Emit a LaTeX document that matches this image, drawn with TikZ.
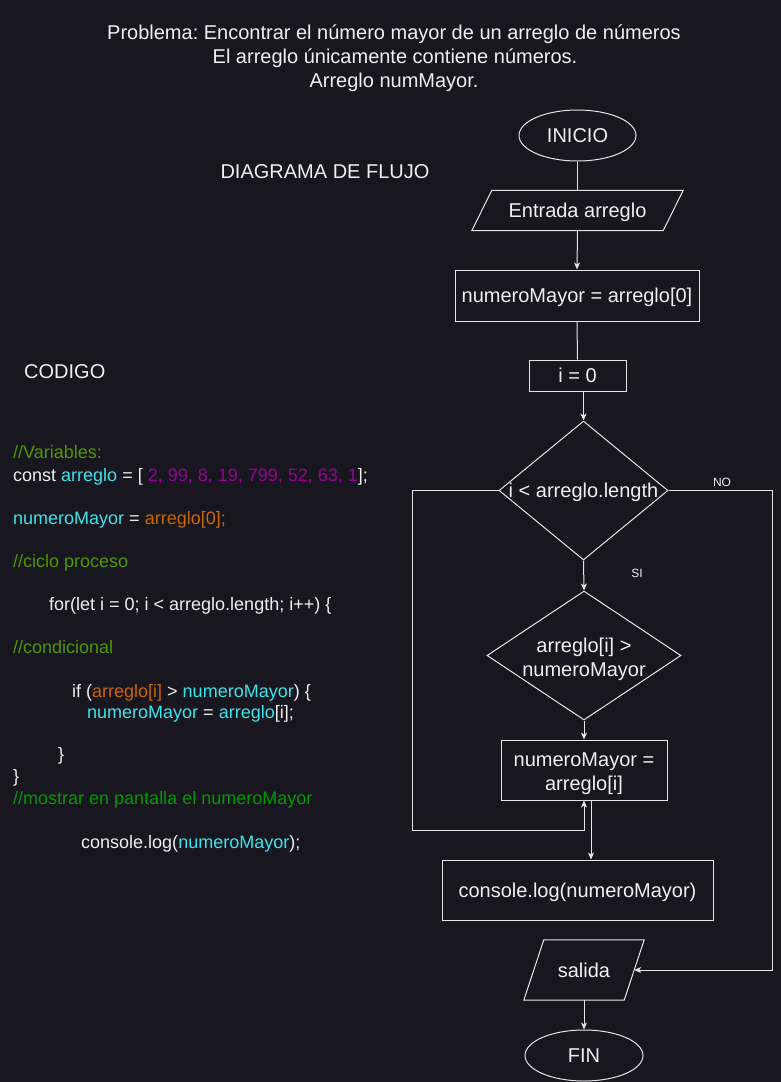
\documentclass[tikz,border=0pt]{standalone}
\usepackage{fontspec}
\setmainfont{Liberation Sans}
\usetikzlibrary{shapes.geometric,arrows.meta}
\definecolor{bg}{HTML}{18161F}
\definecolor{fg}{HTML}{F0F0F0}
\definecolor{ln}{HTML}{E6E6E6}
\definecolor{ccyan}{HTML}{3DE3EA}
\definecolor{corange}{HTML}{CC6600}
\definecolor{cpurple}{HTML}{990099}
\definecolor{cgreen}{HTML}{4D9900}
\definecolor{cgreen2}{HTML}{009900}
\frenchspacing
\begin{document}
\begin{tikzpicture}[x=1pt,y=-1pt,
  flowfont/.style={font=\fontsize{20}{24}\selectfont},
  shapebox/.style={draw=ln, line width=1pt, text=fg, flowfont, inner sep=0pt, text height=14.4pt, text depth=0pt},
  rectbox/.style={shapebox, rectangle},
  ovalbox/.style={shapebox, ellipse},
  decbox/.style={draw=ln, line width=1pt, diamond, inner sep=0pt},
  parabox/.style={rectangle, text=fg, flowfont, inner sep=0pt, text height=14.4pt, text depth=0pt},
  multitext/.style={text=fg, flowfont, inner sep=0pt, align=center},
  conn/.style={draw=ln, line width=1pt},
  arr/.style={conn, -{Stealth[length=7pt,width=6pt,inset=2pt]}},
  titletext/.style={text=fg, flowfont, inner sep=0pt, anchor=base},
  headtext/.style={text=fg, flowfont, inner sep=0pt, anchor=base west},
  codetext/.style={text=fg, font=\fontsize{18}{22}\selectfont, inner sep=0pt, anchor=base west},
  smalltext/.style={text=fg, font=\fontsize{12}{14}\selectfont, inner sep=0pt, anchor=base}]
\fill[bg] (0,0) rectangle (781,1082);
\useasboundingbox (0,0) rectangle (781,1082);

% titles
\node[titletext] (title1) at (394,39) {Problema: Encontrar el número mayor de un arreglo de números};
\node[titletext] (title2) at (395,63) {El arreglo únicamente contiene números.};
\node[titletext] (title3) at (394,87) {Arreglo numMayor.};
\node[titletext] (diag) at (325,178) {DIAGRAMA DE FLUJO};
\node[headtext] (codigo) at (24,378) {CODIGO};

% code
\node[codetext, text=cgreen] (c1) at (13,458) {//Variables:};
\node[codetext] (c2) at (13,481) {const \textcolor{ccyan}{arreglo} = [ \textcolor{cpurple}{2, 99, 8, 19, 799, 52, 63, 1}];};
\node[codetext] (c3) at (13,524) {\textcolor{ccyan}{numeroMayor} = \textcolor{corange}{arreglo[0];}};
\node[codetext, text=cgreen] (c4) at (13,567) {//ciclo proceso};
\node[codetext] (c5) at (49,610) {for(let i = 0; i < arreglo.length; i++) \{};
\node[codetext, text=cgreen] (c6) at (13,653) {//condicional};
\node[codetext] (c7) at (72,697) {if (\textcolor{corange}{arreglo[i]} > \textcolor{ccyan}{numeroMayor}) \{};
\node[codetext] (c8) at (87,718) {\textcolor{ccyan}{numeroMayor} = \textcolor{ccyan}{arreglo}[i];};
\node[codetext] (c9) at (58,760) {\}};
\node[codetext] (c10) at (13,782) {\}};
\node[codetext, text=cgreen2] (c11) at (13,804) {//mostrar en pantalla el numeroMayor};
\node[codetext] (c12) at (81,848) {console.log(\textcolor{ccyan}{numeroMayor});};

% flowchart shapes
\node[ovalbox, minimum width=117pt, minimum height=51pt] (inicio) at (577.5,135.5) {INICIO};
\node[parabox, minimum width=191pt, minimum height=40pt] (entrada) at (577.5,210.5) {Entrada arreglo};
\draw[conn] ([xshift=10pt]entrada.north west) -- ([xshift=10pt]entrada.north east)
  -- ([xshift=-10pt]entrada.south east) -- ([xshift=-10pt]entrada.south west) -- cycle;
\node[rectbox, minimum width=244pt, minimum height=51pt] (nm0) at (577,295.5) {numeroMayor = arreglo[0]};
\node[rectbox, minimum width=97pt, minimum height=31pt] (i0) at (577.5,375.5) {i = 0};
\node[decbox, minimum width=169pt, minimum height=139pt] (d1) at (583.5,490.5) {};
\node[parabox] (t-d1) at (d1.center) {i < arreglo.length};
\node[decbox, minimum width=194pt, minimum height=129pt] (d2) at (584,655.5) {};
\node[multitext] (t-d2) at ([yshift=-4pt]d2.center) {arreglo[i] >\\numeroMayor};
\node[rectbox, minimum width=166pt, minimum height=60pt, text height=, text depth=] (box2) at (584,770) {};
\node[multitext] (t-box2) at ([yshift=-4pt]box2.center) {numeroMayor =\\arreglo[i]};
\node[rectbox, minimum width=271pt, minimum height=60pt] (cons) at (577.5,890) {console.log(numeroMayor)};
\node[parabox, minimum width=100pt, minimum height=60pt] (salida) at (584,970) {salida};
\draw[conn] ([xshift=10pt]salida.north west) -- ([xshift=10pt]salida.north east)
  -- ([xshift=-10pt]salida.south east) -- ([xshift=-10pt]salida.south west) -- cycle;
\node[ovalbox, minimum width=118pt, minimum height=51pt] (fin) at (584,1055.5) {FIN};

% helper points
\coordinate (loopL) at (412,830);
\coordinate (noR) at (772,970);

% connectors
\draw[conn] (inicio.south) -- (entrada.north);
\draw[arr] (entrada.south) -- (nm0.north);
\draw[conn] (nm0.south) -- (i0.north);
\draw[arr] (i0.south -| d1.north) -- (d1.north);
\draw[arr] (d1.south) -- (d2.north);
\draw[arr] (d2.south) -- (box2.north);
\draw[arr] (d1.west) -| (loopL) -| (box2.south);
\draw[arr] ([xshift=7pt]box2.south) -- ([xshift=7pt]box2.south |- cons.north);
\draw[arr] (d1.east) -| (noR) -- (salida.east);
\draw[arr] (salida.south) -- (fin.north);

% edge labels
\node[smalltext] (si) at (637,577) {SI};
\node[smalltext] (no) at (722,486) {NO};
\end{tikzpicture}
\end{document}
